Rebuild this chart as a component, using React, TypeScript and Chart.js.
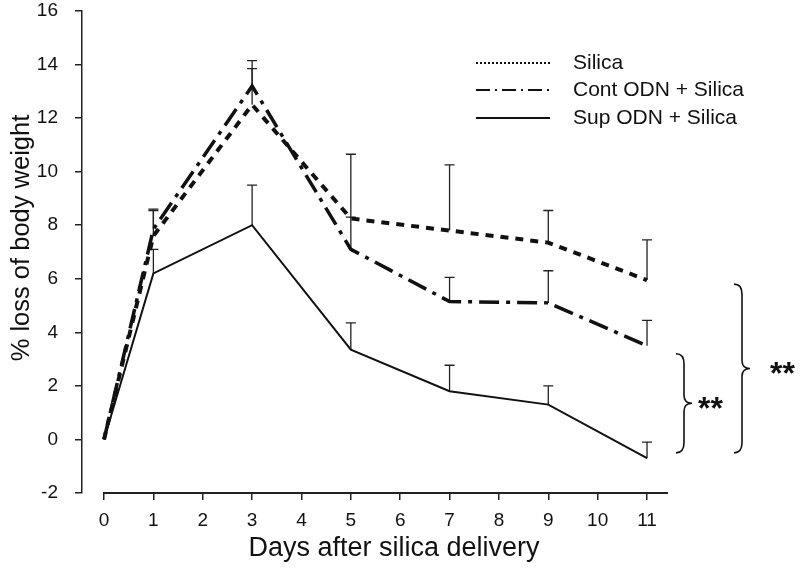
import React, { useEffect, useRef } from "react";
import { Chart, registerables } from "chart.js";
Chart.register(...registerables);

const days = [0, 1, 3, 5, 7, 9, 11];
const xTicks = [0, 1, 2, 3, 4, 5, 6, 7, 8, 9, 10, 11];
const yTicks = [-2, 0, 2, 4, 6, 8, 10, 12, 14, 16];
const seriesNames = ["Silica", "Cont ODN + Silica", "Sup ODN + Silica"];
const silica = [0, 7.6, 12.5, 8.25, 7.8, 7.35, 5.95];
const silicaSE = [0, 0.95, 1.35, 2.4, 2.45, 1.2, 1.5];
const contOdn = [0, 7.85, 13.2, 7.1, 5.15, 5.1, 3.5];
const contSE = [0, 0.75, 0.95, 1.2, 0.9, 1.2, 0.95];
const supOdn = [0, 6.2, 8.0, 3.35, 1.8, 1.3, -0.7];
const supSE = [0, 0.9, 1.5, 1.0, 0.97, 0.7, 0.6];
const braceRanges = [
  [-0.5, 3.2],
  [-0.5, 5.8],
];
const braceLabels = ["**", "**"];

const FONT = '"Liberation Sans", Arial, sans-serif';

export default function App() {
  const ref = useRef<HTMLCanvasElement>(null);
  useEffect(() => {
    document.body.style.margin = "0";
    const ses = [silicaSE, contSE, supSE];
    const errorBars = {
      id: "errorBars",
      beforeDatasetsDraw(chart: any) {
        const ctx = chart.ctx;
        const y = chart.scales.y;
        ctx.save();
        ctx.strokeStyle = "#222";
        ctx.lineWidth = 1.3;
        ctx.setLineDash([]);
        chart.data.datasets.forEach((ds: any, i: number) => {
          const meta = chart.getDatasetMeta(i);
          meta.data.forEach((pt: any, j: number) => {
            const se = ses[i][j];
            if (!se) return;
            const top = y.getPixelForValue(ds.data[j].y + se);
            ctx.beginPath();
            ctx.moveTo(pt.x, pt.y);
            ctx.lineTo(pt.x, top);
            ctx.moveTo(pt.x - 5, top);
            ctx.lineTo(pt.x + 5, top);
            ctx.stroke();
          });
        });
        ctx.restore();
      },
    };
    const decor = {
      id: "decor",
      afterDraw(chart: any) {
        const ctx = chart.ctx;
        const xs = chart.scales.x;
        const ys = chart.scales.y;
        const ca = chart.chartArea;
        ctx.save();
        // x axis line
        ctx.strokeStyle = "#222";
        ctx.lineWidth = 2;
        ctx.setLineDash([]);
        ctx.beginPath();
        ctx.moveTo(xs.getPixelForValue(-0.02), ca.bottom);
        ctx.lineTo(ca.right, ca.bottom);
        ctx.stroke();
        // titles
        ctx.fillStyle = "#111";
        ctx.font = `25.5px ${FONT}`;
        ctx.textAlign = "center";
        ctx.textBaseline = "middle";
        ctx.save();
        ctx.translate(22, 238);
        ctx.rotate(-Math.PI / 2);
        ctx.fillText("% loss of body weight", 0, 0);
        ctx.restore();
        ctx.font = `27px ${FONT}`;
        ctx.fillText("Days after silica delivery", 394, 549);
        // legend
        const rows = [63, 90, 118];
        const dashes = [[2, 2], [14, 5, 2, 5], []];
        ctx.textAlign = "left";
        ctx.font = `21px ${FONT}`;
        rows.forEach((ry, i) => {
          ctx.strokeStyle = "#111";
          ctx.lineWidth = 2;
          ctx.setLineDash(dashes[i]);
          ctx.beginPath();
          ctx.moveTo(476, ry);
          ctx.lineTo(550, ry);
          ctx.stroke();
          ctx.fillText(seriesNames[i], 573, ry);
        });
        ctx.setLineDash([]);
        // braces
        const braceX = [676, 734];
        const labelX = [698, 770];
        braceRanges.forEach((r, i) => {
          const yb = ys.getPixelForValue(r[0]);
          const yt = ys.getPixelForValue(r[1]);
          const x0 = braceX[i];
          const w = 16;
          const mid = (yt + yb) / 2;
          const xm = x0 + w / 2;
          ctx.strokeStyle = "#111";
          ctx.lineWidth = 1.6;
          ctx.beginPath();
          ctx.moveTo(x0, yt);
          ctx.quadraticCurveTo(xm, yt, xm, yt + 10);
          ctx.lineTo(xm, mid - 8);
          ctx.quadraticCurveTo(xm, mid, x0 + w, mid);
          ctx.quadraticCurveTo(xm, mid, xm, mid + 8);
          ctx.lineTo(xm, yb - 10);
          ctx.quadraticCurveTo(xm, yb, x0, yb);
          ctx.stroke();
          ctx.font = `bold 32px ${FONT}`;
          ctx.textBaseline = "alphabetic";
          ctx.fillText(braceLabels[i], labelX[i], mid + 16);
        });
        ctx.restore();
      },
    };
    const mk = (data: number[]) => data.map((v, i) => ({ x: days[i], y: v }));
    const chart = new Chart(ref.current!, {
      type: "line",
      data: {
        datasets: [
          {
            label: seriesNames[0],
            data: mk(silica),
            borderColor: "#111",
            borderWidth: 4,
            borderDash: [8, 7],
            pointRadius: 0,
            tension: 0,
          },
          {
            label: seriesNames[1],
            data: mk(contOdn),
            borderColor: "#111",
            borderWidth: 3.5,
            borderDash: [20, 7, 4, 7],
            pointRadius: 0,
            tension: 0,
          },
          {
            label: seriesNames[2],
            data: mk(supOdn),
            borderColor: "#111",
            borderWidth: 2,
            pointRadius: 0,
            tension: 0,
          },
        ],
      },
      options: {
        animation: false,
        responsive: true,
        maintainAspectRatio: false,
        layout: { padding: { top: 11, right: 132, left: 0, bottom: 0 } },
        plugins: { legend: { display: false }, tooltip: { enabled: false } },
        scales: {
          x: {
            type: "linear",
            min: -0.446,
            max: 11.425,
            afterBuildTicks: (s: any) => {
              s.ticks = xTicks.map((v) => ({ value: v }));
            },
            afterFit: (s: any) => {
              s.height = 76;
              s.paddingLeft = 0;
              s.paddingRight = 0;
            },
            border: { display: false },
            grid: { drawOnChartArea: false, drawTicks: true, tickLength: 7, color: "#222", lineWidth: 1.5 },
            ticks: { font: { family: FONT, size: 19 }, color: "#111", padding: 9, autoSkip: false, maxRotation: 0 },
          },
          y: {
            type: "linear",
            min: -2,
            max: 16,
            afterBuildTicks: (s: any) => {
              s.ticks = yTicks.map((v) => ({ value: v }));
            },
            afterFit: (s: any) => {
              s.width = 82;
              s.paddingTop = 0;
              s.paddingBottom = 0;
            },
            border: { display: true, color: "#222", width: 1.5 },
            grid: { drawOnChartArea: false, drawTicks: true, tickLength: 7, color: "#222", lineWidth: 1.5 },
            ticks: { font: { family: FONT, size: 19 }, color: "#111", padding: 17, autoSkip: false },
          },
        },
      },
      plugins: [errorBars, decor],
    });
    return () => chart.destroy();
  }, []);
  return (
    <div style={{ width: 800, height: 569, position: "relative", background: "#fff" }}>
      <canvas ref={ref} />
    </div>
  );
}
